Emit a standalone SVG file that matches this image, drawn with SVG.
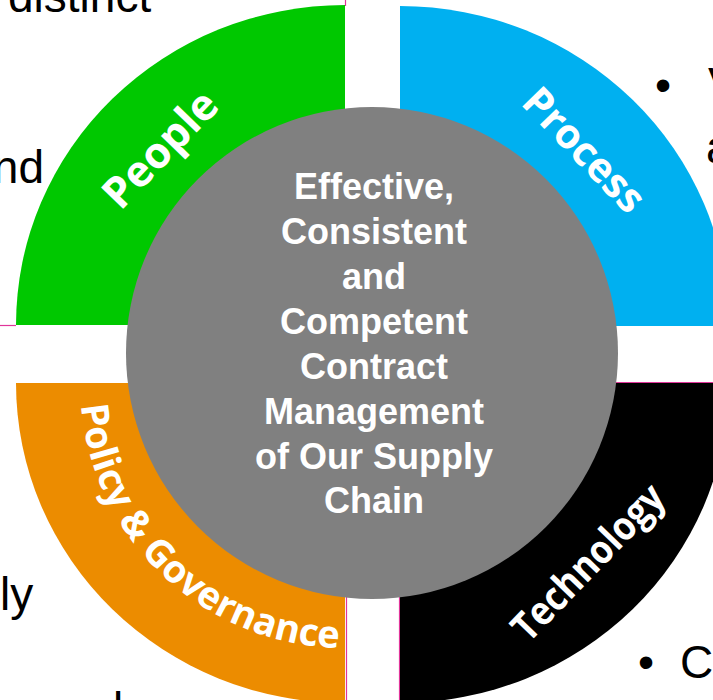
<svg xmlns="http://www.w3.org/2000/svg" width="713" height="700" viewBox="0 0 713 700">
<style>
.bg{font-family:"Liberation Sans",Arial,sans-serif;font-size:46px;fill:#000}
.lbl{font-family:"Open Sans","DejaVu Sans",sans-serif;font-weight:bold;fill:#fff}
.ctr{font-family:"Liberation Sans",Arial,sans-serif;font-weight:bold;font-size:36px;fill:#fff;text-anchor:middle}
.pk{stroke:#e0359a;stroke-width:1.2;fill:none}
</style>
<defs>
<path id="arcPG" d="M80,383 A265,265 0 0 0 345,648"/>
</defs>
<rect width="713" height="700" fill="#fff"/>
<g id="background-text">
<text class="bg" x="8" y="12">distinct</text>
<text class="bg" x="44" y="183" text-anchor="end">nd</text>
<text class="bg" x="0" y="610">ly</text>
<text class="bg" x="113" y="725">l</text>
<text class="bg" x="655" y="101">•</text>
<text class="bg" x="708" y="100">V</text>
<text class="bg" x="706" y="163">a</text>
<text class="bg" x="638" y="678">•</text>
<text class="bg" x="680" y="678">C</text>
</g>
<g id="connectors">
<line class="pk" x1="345.5" y1="0" x2="345.5" y2="6"/>
<line class="pk" x1="0" y1="325.5" x2="16" y2="325.5"/>
<line class="pk" x1="346.5" y1="383" x2="346.5" y2="700"/>
<line class="pk" x1="399.5" y1="383" x2="399.5" y2="700"/>
<line class="pk" x1="400" y1="382.5" x2="713" y2="382.5"/>
</g>
<g id="people">
<path d="M345,325 L16,325 A329,320 0 0 1 345,5 Z" fill="#00c800"/>
<text class="lbl" font-size="43" text-anchor="middle" transform="translate(160,149) rotate(-46)" y="15">People</text>
</g>
<g id="process">
<path d="M400,326 L400,6 A329,320 0 0 1 729,326 Z" fill="#00b0f0"/>
<text class="lbl" font-size="41" text-anchor="middle" transform="translate(584,150) rotate(46)" y="14">Process</text>
</g>
<g id="policy-governance">
<path d="M345,383 L345,703 A329,320 0 0 1 16,383 Z" fill="#ec8c00"/>
<text class="lbl" font-size="38"><textPath href="#arcPG" startOffset="22" textLength="388" lengthAdjust="spacingAndGlyphs">Policy &amp; Governance</textPath></text>
</g>
<g id="technology">
<path d="M400,383 L729,383 A329,320 0 0 1 400,703 Z" fill="#000"/>
<text class="lbl" font-size="40" text-anchor="middle" transform="translate(588,562) rotate(-46)" y="14" textLength="200" lengthAdjust="spacingAndGlyphs">Technology</text>
</g>
<g id="center">
<circle cx="372" cy="353" r="246" fill="#808080"/>
<text class="ctr" x="374" y="199">Effective,</text>
<text class="ctr" x="374" y="244">Consistent</text>
<text class="ctr" x="374" y="289">and</text>
<text class="ctr" x="374" y="334">Competent</text>
<text class="ctr" x="374" y="379">Contract</text>
<text class="ctr" x="374" y="424">Management</text>
<text class="ctr" x="374" y="469">of Our Supply</text>
<text class="ctr" x="374" y="513">Chain</text>
</g>
</svg>
